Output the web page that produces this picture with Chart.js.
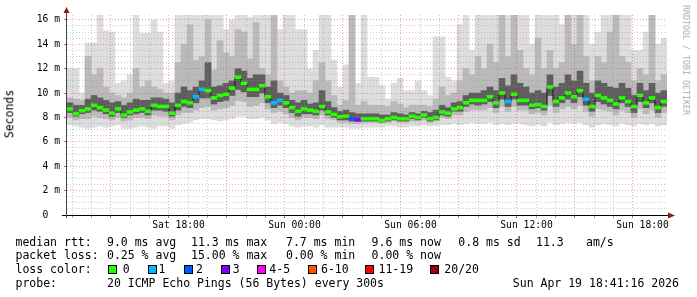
<!DOCTYPE html>
<html lang="en">
<head>
<meta charset="UTF-8">
<title>Smokeping latency</title>
<style>
  body { margin: 0; background: #fff; }
  #wrap { position: relative; width: 697px; height: 297px; font-family: "DejaVu Sans Mono", monospace; color: #000; }
  #wrap canvas { position: absolute; left: 0; top: 0; }
  .t { position: absolute; font-size: 11.5px; line-height: 14px; white-space: pre; }
  .box { position: absolute; top: 265px; width: 7px; height: 7px; border: 1px solid #000; }
  .rot { position: absolute; white-space: pre; line-height: 1; }
</style>
</head>
<body>
<div id="wrap">
  <canvas id="myChart" width="697" height="297"></canvas>

  <div class="rot" style="left:10px;top:114px;font-size:11.5px;transform:translate(-50%,-50%) rotate(-90deg)">Seconds</div>
  <div class="rot" style="left:686px;top:60px;font-size:8.3px;color:#aaa;transform:translate(-50%,-50%) rotate(90deg)">RRDTOOL / TOBI OETIKER</div>

  <div class="t" style="left:15.5px;top:234.7px">median rtt:</div>
  <div class="t" style="left:107px;top:234.7px">9.0 ms avg</div>
  <div class="t" style="left:191px;top:234.7px">11.3 ms max</div>
  <div class="t" style="left:286px;top:234.7px">7.7 ms min</div>
  <div class="t" style="left:371.6px;top:234.7px">9.6 ms now</div>
  <div class="t" style="left:458.3px;top:234.7px">0.8 ms sd</div>
  <div class="t" style="left:536px;top:234.7px">11.3</div>
  <div class="t" style="left:586px;top:234.7px">am/s</div>

  <div class="t" style="left:15.5px;top:248.3px">packet loss:</div>
  <div class="t" style="left:107px;top:248.3px">0.25 % avg</div>
  <div class="t" style="left:191px;top:248.3px">15.00 % max</div>
  <div class="t" style="left:286px;top:248.3px">0.00 % min</div>
  <div class="t" style="left:371.6px;top:248.3px">0.00 % now</div>

  <div class="t" style="left:15.5px;top:262.3px">loss color:</div>
  <div id="lossLegend"></div>

  <div class="t" style="left:15.5px;top:276.3px">probe:</div>
  <div class="t" style="left:107px;top:276.3px">20 ICMP Echo Pings (56 Bytes) every 300s</div>
  <div class="t" style="left:512.8px;top:276.3px">Sun Apr 19 18:41:16 2026</div>
</div>

<script src="https://cdn.jsdelivr.net/npm/chart.js@4.4.1/dist/chart.umd.min.js"></script>
<script>
// 100 slots of 18 min, Sat 12:45 -> Sun 18:45 (values in ms)
const median = [
  8.7, 8.3, 8.55, 8.7, 9.0, 8.8, 8.6, 8.35, 8.7, 8.2, 8.45, 8.6, 8.7, 8.5, 9.0, 8.9, 8.9, 8.35, 9.0, 9.3,
  9.2, 9.7, 10.3, 10.2, 9.6, 9.8, 9.9, 10.4, 11.3, 10.8, 10.3, 10.3, 10.6, 9.7, 9.2, 9.4, 9.2, 8.8, 8.5, 8.7,
  8.6, 8.5, 8.9, 8.45, 8.25, 8.05, 8.1, 7.9, 7.8, 7.9, 7.9, 7.9, 7.75, 7.9, 8.0, 7.9, 7.9, 8.1, 8.0, 8.2,
  7.9, 8.0, 8.45, 8.35, 8.7, 8.8, 9.2, 9.4, 9.4, 9.4, 9.7, 9.2, 10.0, 9.3, 9.9, 9.4, 9.4, 9.0, 9.05, 8.9,
  10.5, 9.3, 9.6, 10.0, 9.7, 10.2, 9.5, 8.9, 9.8, 9.6, 9.4, 9.1, 9.6, 9.3, 8.9, 9.8, 9.2, 9.6, 8.8, 9.3
];
// lost pings (of 20) per slot
const loss = [
  0, 0, 0, 0, 0, 0, 0, 0, 0, 0, 0, 0, 0, 0, 0, 0, 0, 0, 0, 0,
  0, 1, 1, 0, 0, 0, 0, 0, 0, 0, 0, 0, 0, 0, 1, 1, 0, 0, 0, 0,
  0, 0, 0, 0, 0, 0, 0, 2, 3, 0, 0, 0, 0, 0, 0, 0, 0, 0, 0, 0,
  0, 0, 0, 0, 0, 0, 0, 0, 0, 0, 0, 0, 0, 1, 0, 0, 0, 0, 0, 0,
  0, 0, 0, 0, 0, 0, 1, 0, 0, 0, 0, 0, 0, 0, 0, 0, 0, 0, 0, 0
];
// smoke: outer band
const outerLow = [
  7.4, 7.3, 7.2, 7.1, 7.2, 7.3, 7.2, 7.3, 7.4, 7.1, 7.1, 7.2, 7.3, 7.2, 7.1, 7.3, 7.3, 7.1, 7.4, 7.5,
  7.6, 7.8, 7.9, 7.9, 7.8, 7.7, 7.8, 7.9, 8.1, 8.1, 7.9, 7.9, 8.0, 7.8, 7.5, 7.6, 7.5, 7.3, 7.2, 7.3,
  7.3, 7.2, 7.4, 7.2, 7.2, 7.2, 7.2, 7.1, 7.1, 7.2, 7.2, 7.2, 7.2, 7.3, 7.3, 7.2, 7.2, 7.3, 7.3, 7.4,
  7.3, 7.3, 7.4, 7.4, 7.5, 7.4, 7.5, 7.6, 7.5, 7.5, 7.6, 7.4, 7.5, 7.4, 7.5, 7.5, 7.4, 7.3, 7.4, 7.3,
  7.6, 7.4, 7.5, 7.6, 7.5, 7.6, 7.4, 7.2, 7.4, 7.5, 7.4, 7.3, 7.5, 7.4, 7.3, 7.5, 7.4, 7.5, 7.3, 7.4
];
const outerHigh = [
  12.0, 12.0, 10.0, 14.1, 14.1, 16.4, 15.1, 15.0, 10.8, 11.0, 11.5, 16.4, 14.9, 14.9, 16.0, 15.0, 10.8, 11.0, 16.4, 16.4,
  16.4, 16.4, 16.4, 16.4, 16.4, 16.4, 15.2, 16.0, 16.4, 16.4, 16.2, 16.4, 16.4, 16.4, 16.4, 15.2, 16.4, 16.4, 15.2, 15.2,
  12.0, 13.5, 16.4, 16.4, 12.7, 10.5, 12.3, 16.4, 10.8, 16.4, 11.3, 11.3, 10.6, 9.5, 10.8, 11.2, 10.2, 10.2, 11.0, 10.2,
  9.8, 14.6, 14.6, 11.3, 11.0, 15.6, 16.4, 13.5, 16.4, 16.4, 16.4, 16.4, 16.4, 16.4, 16.4, 16.4, 16.4, 14.0, 16.4, 16.4,
  16.4, 16.4, 15.6, 16.4, 16.4, 16.4, 16.4, 14.0, 15.0, 16.4, 16.4, 16.4, 16.4, 16.4, 13.5, 13.5, 15.0, 16.4, 14.0, 14.5
];
// smoke: middle band
const midLow = [
  8.0, 7.8, 7.9, 7.9, 8.1, 8.0, 7.9, 7.8, 8.0, 7.7, 7.8, 8.0, 8.0, 7.9, 8.2, 8.1, 8.1, 7.8, 8.2, 8.4,
  8.4, 8.6, 8.8, 8.9, 8.6, 8.7, 8.8, 9.0, 9.4, 9.3, 8.9, 9.0, 9.2, 8.7, 8.4, 8.5, 8.3, 8.0, 7.8, 8.0,
  8.0, 7.9, 8.2, 7.9, 7.8, 7.6, 7.6, 7.5, 7.5, 7.6, 7.6, 7.6, 7.6, 7.6, 7.7, 7.6, 7.6, 7.7, 7.7, 7.8,
  7.6, 7.7, 8.0, 7.9, 8.2, 8.2, 8.5, 8.6, 8.6, 8.6, 8.8, 8.4, 8.9, 8.5, 8.9, 8.6, 8.6, 8.3, 8.4, 8.2,
  9.0, 8.4, 8.7, 8.9, 8.7, 9.0, 8.5, 8.1, 8.7, 8.6, 8.5, 8.2, 8.6, 8.4, 8.0, 8.7, 8.3, 8.6, 8.0, 8.4
];
const midHigh = [
  9.6, 9.5, 9.4, 13.0, 11.5, 12.0, 10.5, 10.0, 9.8, 9.6, 10.0, 12.0, 10.5, 11.0, 10.5, 10.3, 10.0, 10.0, 12.5, 14.0,
  15.6, 12.7, 13.0, 16.0, 11.9, 14.3, 13.3, 13.0, 15.2, 15.0, 12.8, 15.8, 12.0, 11.5, 16.4, 11.0, 10.5, 10.0, 10.2, 10.2,
  10.0, 11.0, 12.5, 11.0, 9.8, 9.0, 9.4, 16.4, 9.0, 9.3, 9.0, 9.0, 9.0, 8.9, 9.3, 9.1, 8.8, 9.0, 9.0, 9.0,
  8.9, 9.5, 10.5, 9.8, 10.0, 11.0, 12.0, 11.5, 13.0, 12.0, 14.0, 12.5, 16.4, 13.0, 16.4, 13.5, 12.0, 11.5, 14.5, 12.0,
  13.5, 12.0, 12.5, 16.4, 14.0, 16.4, 13.0, 11.0, 13.0, 12.5, 15.0, 16.4, 13.0, 12.5, 11.0, 12.0, 11.5, 16.4, 11.0, 11.5
];
// smoke: inner band
const innerLow = [
  8.4, 8.1, 8.3, 8.4, 8.6, 8.5, 8.3, 8.1, 8.4, 8.0, 8.2, 8.3, 8.4, 8.2, 8.6, 8.6, 8.5, 8.1, 8.6, 8.9,
  8.8, 9.2, 9.6, 9.6, 9.1, 9.3, 9.4, 9.8, 10.3, 10.1, 9.7, 9.7, 10.0, 9.2, 8.8, 9.0, 8.8, 8.4, 8.1, 8.3,
  8.3, 8.2, 8.6, 8.2, 8.0, 7.8, 7.8, 7.7, 7.7, 7.7, 7.7, 7.7, 7.6, 7.7, 7.8, 7.7, 7.7, 7.9, 7.8, 8.0,
  7.7, 7.8, 8.2, 8.1, 8.5, 8.5, 8.9, 9.1, 9.0, 9.1, 9.3, 8.8, 9.5, 8.9, 9.5, 9.0, 9.0, 8.7, 8.8, 8.6,
  9.8, 8.9, 9.2, 9.5, 9.2, 9.7, 9.0, 8.5, 9.3, 9.1, 8.9, 8.7, 9.2, 8.9, 8.4, 9.3, 8.8, 9.2, 8.4, 8.9
];
const innerHigh = [
  9.2, 9.0, 9.0, 9.5, 9.8, 9.6, 9.4, 9.2, 9.3, 9.0, 9.2, 9.5, 9.4, 9.4, 9.6, 9.6, 9.5, 9.2, 10.0, 10.5,
  10.2, 10.5, 11.0, 12.5, 10.5, 10.6, 10.8, 11.0, 12.0, 11.8, 11.2, 11.5, 11.5, 10.5, 11.0, 10.0, 9.8, 9.4, 9.2, 9.4,
  9.1, 9.2, 10.2, 9.3, 8.8, 8.5, 8.6, 8.4, 8.3, 8.3, 8.3, 8.3, 8.2, 8.2, 8.4, 8.3, 8.2, 8.4, 8.3, 8.5,
  8.4, 8.6, 9.0, 8.8, 9.2, 9.3, 9.8, 10.0, 10.0, 10.2, 10.5, 10.2, 11.2, 10.6, 11.5, 10.8, 10.5, 10.0, 10.2, 10.0,
  11.5, 10.5, 10.8, 11.5, 11.0, 11.8, 10.8, 10.0, 11.0, 10.8, 10.5, 10.4, 10.8, 10.4, 9.8, 10.8, 10.2, 10.8, 10.0, 10.2
];

const lossLabels = ['0', '1', '2', '3', '4-5', '6-10', '11-19', '20/20'];
const lossColors = ['#26ff00', '#00b8ff', '#0059ff', '#7e00ff', '#ff00ff', '#ff5500', '#ff0000', '#a10000'];
const xTickLabels = { 18: 'Sat 18:00', 24: 'Sun 00:00', 30: 'Sun 06:00', 36: 'Sun 12:00', 42: 'Sun 18:00' };

// legend box / label x positions
const lossBoxX = [108, 148, 184, 221, 257, 308, 365, 430];
const lossTextX = [122.7, 158.5, 196, 232.7, 269.3, 321, 378.5, 444.3];

const lossLegend = document.getElementById('lossLegend');
lossLabels.forEach((lab, i) => {
  const b = document.createElement('div');
  b.className = 'box';
  b.style.left = lossBoxX[i] + 'px';
  b.style.background = lossColors[i];
  lossLegend.appendChild(b);
  const t = document.createElement('div');
  t.className = 't';
  t.style.left = lossTextX[i] + 'px';
  t.style.top = '262.3px';
  t.textContent = lab;
  lossLegend.appendChild(t);
});

function lossColor(n) {
  if (n === 0) return lossColors[0];
  if (n <= 3) return lossColors[n];
  if (n <= 5) return lossColors[4];
  if (n <= 10) return lossColors[5];
  if (n <= 19) return lossColors[6];
  return lossColors[7];
}

const slots = median.map((_, i) => i);
const majorGrid = 'rgba(225,80,80,0.55)';
const minorGrid = 'rgba(150,150,150,0.5)';
const font = { family: 'DejaVu Sans Mono', size: 9.7 };

// grid colour per tick; context may come without a tick
function gridColor(step, major, minor) {
  return c => (!c.tick ? 'rgba(0,0,0,0)' : (c.tick.value % step === 0 ? major : minor));
}

// axis lines and arrow heads like rrdtool
const rrdAxes = {
  id: 'rrdAxes',
  afterDraw(chart) {
    const { ctx, chartArea: a } = chart;
    ctx.save();
    ctx.strokeStyle = '#000';
    ctx.lineWidth = 1;
    ctx.beginPath();
    ctx.moveTo(a.left - 5, a.bottom + 0.5);
    ctx.lineTo(a.right + 2, a.bottom + 0.5);
    ctx.stroke();
    ctx.strokeStyle = '#444';
    ctx.beginPath();
    ctx.moveTo(a.left - 0.5, a.bottom + 3);
    ctx.lineTo(a.left - 0.5, a.top - 2);
    ctx.stroke();
    ctx.fillStyle = '#8e1b1b';
    ctx.beginPath();
    ctx.moveTo(a.left - 0.5, a.top - 8);
    ctx.lineTo(a.left - 3.5, a.top - 2);
    ctx.lineTo(a.left + 2.5, a.top - 2);
    ctx.fill();
    ctx.beginPath();
    ctx.moveTo(a.right + 8, a.bottom + 0.5);
    ctx.lineTo(a.right + 1, a.bottom - 2.5);
    ctx.lineTo(a.right + 1, a.bottom + 3.5);
    ctx.fill();
    ctx.restore();
  }
};

const ctx = document.getElementById('myChart');
const myChart = new Chart(ctx, {
  type: 'bar',
  data: {
    labels: slots,
    datasets: [
      { label: 'outer', data: outerLow.map((v, i) => [v, outerHigh[i]]), backgroundColor: '#dddddd', order: 5 },
      { label: 'mid', data: midLow.map((v, i) => [v, midHigh[i]]), backgroundColor: '#bababa', order: 4 },
      { label: 'inner', data: innerLow.map((v, i) => [v, innerHigh[i]]), backgroundColor: '#5e5e5e', order: 3 },
      { type: 'line', label: 'median line', data: median, borderColor: '#151515', borderWidth: 1,
        stepped: 'middle', pointRadius: 0, xAxisID: 'x', yAxisID: 'y', order: 2 },
      { label: 'median', data: median.map(m => [m - 0.12, m + 0.12]), backgroundColor: loss.map(lossColor), order: 1 }
    ]
  },
  options: {
    responsive: false,
    animation: false,
    layout: { padding: { left: 0, right: 30, top: 15, bottom: 0 } },
    datasets: { bar: { barPercentage: 1, categoryPercentage: 1, grouped: false, borderWidth: 0 } },
    plugins: { legend: { display: false }, tooltip: { enabled: false } },
    scales: {
      x: { display: false, offset: true },
      x2: {
        type: 'linear', position: 'bottom', min: 12.75, max: 42.75,
        afterBuildTicks: s => { s.ticks = Array.from({ length: 30 }, (_, i) => ({ value: 13 + i })); },
        afterFit: s => { s.height = 82; },
        border: { display: false, dash: [1, 2] },
        grid: {
          z: 1,
          color: gridColor(3, majorGrid, minorGrid),
          tickLength: 3,
          tickColor: gridColor(3, 'rgba(200,60,60,0.8)', 'rgba(120,120,120,0.7)')
        },
        ticks: { autoSkip: false, maxRotation: 0, padding: 2, color: '#000', font: font,
          callback: v => xTickLabels[v] || '' }
      },
      y: {
        min: 0, max: 16.4,
        afterBuildTicks: s => { s.ticks = Array.from({ length: 33 }, (_, i) => ({ value: i * 0.5 })); },
        afterFit: s => { s.width = 67; },
        border: { display: false, dash: [1, 2] },
        grid: {
          z: 1,
          color: gridColor(2, majorGrid, minorGrid),
          tickLength: 3,
          tickColor: gridColor(2, 'rgba(200,60,60,0.8)', 'rgba(0,0,0,0)')
        },
        ticks: { autoSkip: false, padding: 4, color: '#000', font: font,
          callback: v => (v % 2 !== 0 ? '' : (v === 0 ? '0  ' : v + ' m')) }
      }
    }
  },
  plugins: [rrdAxes]
});
</script>
</body>
</html>
